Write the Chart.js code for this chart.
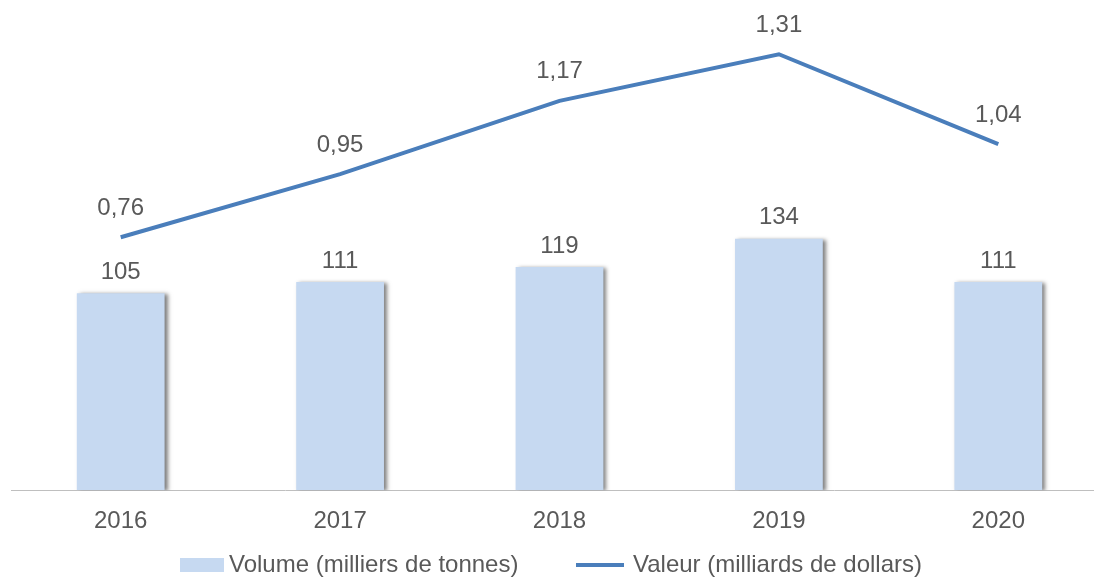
<!DOCTYPE html>
<html>
<head>
<meta charset="utf-8">
<script src="https://cdn.jsdelivr.net/npm/chart.js@4.4.0/dist/chart.umd.min.js"></script>
<style>
  html, body { margin: 0; padding: 0; background: #fff; overflow: hidden; }
  #wrap { width: 1108px; height: 577px; }
</style>
</head>
<body>
<div id="wrap"><canvas id="myChart"></canvas></div>
<script>
  // data
  var annees = ["2016", "2017", "2018", "2019", "2020"];
  var volume = [105, 111, 119, 134, 111];
  var valeur = [0.76, 0.95, 1.17, 1.31, 1.04];
  var series = ["Volume (milliers de tonnes)", "Valeur (milliards de dollars)"];

  var police = "24px 'Liberation Sans', Arial, sans-serif";
  var gris = "#595959";
  var bleuClair = "#c6d9f1";
  var bleu = "#4a7ebb";

  var ctx = document.getElementById("myChart");

  // labels au-dessus des barres et des points
  var etiquettes = {
    id: "etiquettes",
    afterDatasetsDraw: function (chart) {
      var c = chart.ctx;
      c.save();
      c.font = police;
      c.fillStyle = gris;
      c.textAlign = "center";
      c.textBaseline = "middle";
      chart.getDatasetMeta(0).data.forEach(function (bar, i) {
        c.fillText(String(volume[i]), bar.x, bar.y - 21);
      });
      chart.getDatasetMeta(1).data.forEach(function (pt, i) {
        c.fillText(valeur[i].toFixed(2).replace(".", ","), pt.x, pt.y - 29);
      });
      c.restore();
    }
  };

  // ombre des barres
  var ombre = {
    id: "ombre",
    beforeDatasetDraw: function (chart, args) {
      if (args.index !== 0) return;
      var c = chart.ctx;
      c.save();
      c.shadowColor = "rgba(0,0,0,0.5)";
      c.shadowBlur = 4;
      c.shadowOffsetX = 3;
      c.shadowOffsetY = 1;
    },
    afterDatasetDraw: function (chart, args) {
      if (args.index !== 0) return;
      chart.ctx.restore();
    }
  };

  // legende en bas
  var legende = {
    id: "legende",
    afterDraw: function (chart) {
      var c = chart.ctx;
      var y = 565;
      c.save();
      c.font = police;
      c.textAlign = "left";
      c.textBaseline = "middle";
      // barre
      c.fillStyle = bleuClair;
      c.fillRect(180, y - 7, 44, 14);
      c.fillStyle = gris;
      c.fillText(series[0], 229, y);
      // ligne
      c.strokeStyle = bleu;
      c.lineWidth = 4;
      c.beginPath();
      c.moveTo(576, y);
      c.lineTo(624, y);
      c.stroke();
      c.fillText(series[1], 633, y);
      c.restore();
    }
  };

  var data2 = {
    labels: annees,
    datasets: [{
      type: "bar",
      label: series[0],
      data: volume,
      backgroundColor: bleuClair,
      yAxisID: "y",
      categoryPercentage: 1,
      barPercentage: 0.4,
      order: 2
    }, {
      type: "line",
      label: series[1],
      data: valeur,
      borderColor: bleu,
      borderWidth: 4,
      pointRadius: 0,
      tension: 0,
      yAxisID: "y1",
      order: 1
    }]
  };

  var options = {
    responsive: true,
    maintainAspectRatio: false,
    animation: false,
    layout: { padding: { left: 11, top: 10, right: 0, bottom: 24 } },
    scales: {
      x: {
        grid: { display: false, drawTicks: false },
        border: { display: true, color: "#bfbfbf", width: 1 },
        ticks: {
          color: gris,
          font: { family: "'Liberation Sans', Arial, sans-serif", size: 24 },
          padding: 17
        }
      },
      y: { display: false, min: 0, max: 256 },
      y1: { display: false, min: 0, max: 1.443, position: "right" }
    },
    plugins: {
      tooltip: { enabled: false },
      legend: { display: false }
    }
  };

  var chart2 = new Chart(ctx, {
    data: data2,
    options: options,
    plugins: [etiquettes, ombre, legende]
  });
</script>
</body>
</html>
